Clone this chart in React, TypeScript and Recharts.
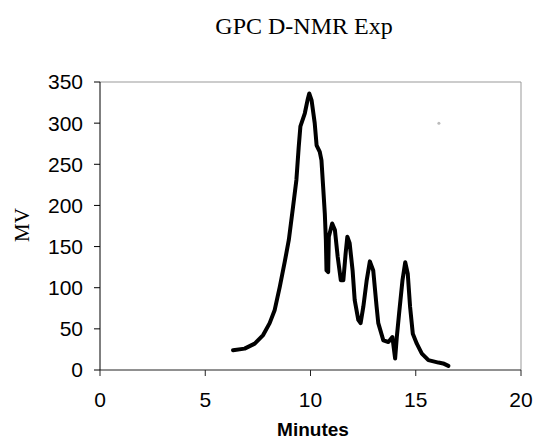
import * as React from "react"
import { ComposedChart, Line, Scatter, XAxis, YAxis, ReferenceLine } from "recharts"

// elution time (minutes) and detector response (MV)
const minutes = [
  6.32, 6.87, 7.35, 7.75, 8.06, 8.3, 8.54, 8.78, 8.97, 9.17, 9.33, 9.44, 9.52, 9.73, 9.86, 9.94,
  10.05, 10.2, 10.29, 10.44, 10.52, 10.6, 10.68, 10.73, 10.76, 10.84, 10.87, 11.03, 11.16, 11.29,
  11.44, 11.56, 11.67, 11.75, 11.86, 12.0, 12.1, 12.27, 12.38, 12.51, 12.67, 12.82, 12.98, 13.14,
  13.22, 13.46, 13.7, 13.89, 14.02, 14.1, 14.21, 14.37, 14.5, 14.62, 14.73, 14.86, 15.05, 15.29,
  15.6, 16.08, 16.3, 16.55,
]
const mv = [
  24, 26, 32, 42.5, 57, 73, 101, 132, 158, 198, 231, 271, 296, 312, 328, 336,
  328, 300, 273, 265, 255, 223, 190, 158, 121, 119, 162, 178, 170, 138,
  109, 109, 142, 162, 154, 121, 85, 61, 57, 77, 109, 132, 121, 77,
  57, 36, 34, 40, 14, 40, 69, 109, 131, 117, 77, 44, 32, 20,
  12, 9, 8, 5,
]
// stray marker in the top right of the plot
const strayPoint = [{ min: 16.1, mv: 300 }]

const xTicks = [0, 5, 10, 15, 20]
const yTicks = [0, 50, 100, 150, 200, 250, 300, 350]

const data = minutes.map((m, i) => ({ min: m, mv: mv[i] }))

const sans = "'Liberation Sans', Arial, sans-serif"
const serif = "'Liberation Serif', 'Times New Roman', serif"
const tickStyle = { fontFamily: sans, fontSize: 21, fill: "#000" }

export default function App() {
  return (
    <div style={{ position: "absolute", left: 0, top: 0, width: 534, height: 445, background: "#fff" }}>
      <ComposedChart width={534} height={445} data={data} margin={{ top: 82, right: 13, bottom: 0, left: 0 }}>
        <XAxis
          dataKey="min"
          type="number"
          domain={[0, 20]}
          ticks={xTicks}
          height={75}
          stroke="#222"
          tickSize={6}
          tickMargin={16}
          tick={tickStyle}
          interval={0}
        />
        <YAxis
          type="number"
          domain={[0, 350]}
          ticks={yTicks}
          width={100}
          stroke="#000"
          tickSize={6}
          tickMargin={11}
          tick={tickStyle}
          interval={0}
        />
        <ReferenceLine y={350} stroke="#999" strokeWidth={1} />
        <ReferenceLine x={20} stroke="#999" strokeWidth={1} />
        <Line
          type="linear"
          dataKey="mv"
          stroke="#000"
          strokeWidth={4}
          strokeLinejoin="round"
          strokeLinecap="round"
          dot={false}
          activeDot={false}
          isAnimationActive={false}
        />
        <Scatter
          data={strayPoint}
          dataKey="mv"
          fill="#bbb"
          shape={(p: any) => <circle cx={p.cx} cy={p.cy} r={1.5} fill="#bbb" />}
          isAnimationActive={false}
        />
      </ComposedChart>
      {/* title and axis titles */}
      <svg width={534} height={445} style={{ position: "absolute", left: 0, top: 0, pointerEvents: "none" }}>
        <text x={304} y={34} textAnchor="middle" fontFamily={serif} fontSize={24} fill="#000">
          GPC D-NMR Exp
        </text>
        <text
          x={0}
          y={0}
          textAnchor="middle"
          fontFamily={serif}
          fontSize={21}
          fill="#000"
          transform="translate(29 225) rotate(-90)"
        >
          MV
        </text>
        <text x={313} y={436} textAnchor="middle" fontFamily={sans} fontSize={19} fontWeight="bold" fill="#000">
          Minutes
        </text>
      </svg>
    </div>
  )
}
